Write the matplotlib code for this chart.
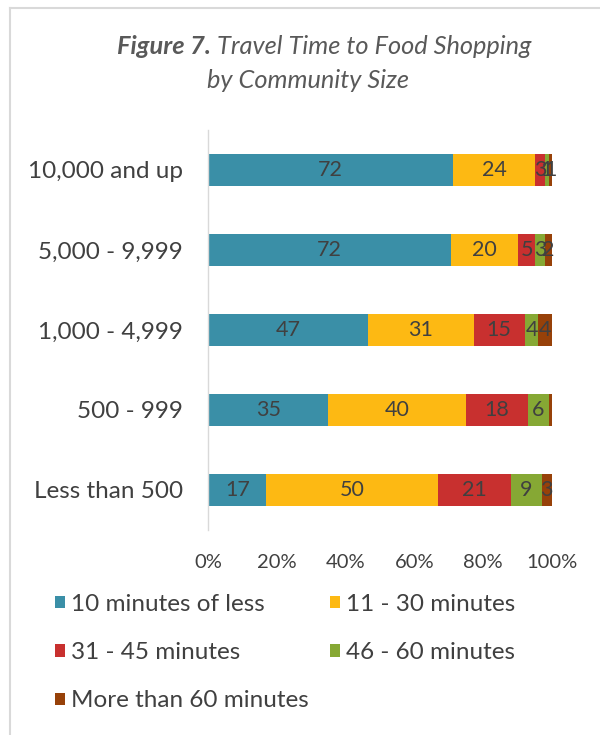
import matplotlib.pyplot as plt
from matplotlib.lines import Line2D
import numpy as np

plt.rcParams['font.family'] = ['Lato', 'DejaVu Sans']

# community sizes, bottom to top
sizes = ['Less than 500', '500 - 999', '1,000 - 4,999', '5,000 - 9,999', '10,000 and up']

# survey shares (%) per travel time band
under_10 = [17, 35, 47, 72, 72]
min_11_30 = [50, 40, 31, 20, 24]
min_31_45 = [21, 18, 15, 5, 3]
min_46_60 = [9, 6, 4, 3, 1]
over_60 = [3, 1, 4, 2, 1]

series_names = ['10 minutes of less', '11 - 30 minutes', '31 - 45 minutes',
                '46 - 60 minutes', 'More than 60 minutes']
colors = ['#3A8FA7', '#FDB913', '#C8302F', '#86A834', '#974109']
txt = '#404040'

series = np.array([under_10, min_11_30, min_31_45, min_46_60, over_60], dtype=float)
totals = series.sum(axis=0)
shares = series / totals * 100

fig = plt.figure(figsize=(6, 7.35), dpi=100)
ax = fig.add_axes([208/600, 1-530/735, 344/600, 400/735])

y = np.arange(len(sizes))
left = np.zeros(len(sizes))
handles = []
for i in range(len(series)):
    bars = ax.barh(y, shares[i], left=left, height=0.4, color=colors[i],
                   label=series_names[i])
    handles.append(bars)
    for j in range(len(sizes)):
        v = series[i][j]
        # the tiny sliver on 500 - 999 carries no label
        if i == 4 and j == 1:
            continue
        ax.text(left[j] + shares[i][j]/2, y[j], '%d' % v, ha='center', va='center',
                fontsize=15.5, color=txt)
    left += shares[i]

ax.set_xlim(0, 100)
ax.set_ylim(-0.5, 4.5)
ax.set_yticks(y)
ax.set_yticklabels(sizes, fontsize=17.5, color=txt)
ax.set_xticks([0, 20, 40, 60, 80, 100])
ax.set_xticklabels(['0%', '20%', '40%', '60%', '80%', '100%'], fontsize=14.5, color=txt)
ax.tick_params(length=0)
ax.tick_params(axis='y', pad=18)
ax.tick_params(axis='x', pad=17)
for s in ['top', 'right', 'bottom']:
    ax.spines[s].set_visible(False)
ax.spines['left'].set_color('#D9D9D9')
ax.spines['left'].set_linewidth(1)

# outer frame lines
fig.add_artist(Line2D([10/600, 10/600], [0, 1-8/735], color='#D9D9D9', lw=1.5))
fig.add_artist(Line2D([10/600, 1], [1-8/735, 1-8/735], color='#D9D9D9', lw=1.5))

# title, first part bold italic
fig.canvas.draw()
r = fig.canvas.get_renderer()
title_c = '#595959'
p1 = fig.text(0, 0, 'Figure 7.', fontsize=18.3, fontstyle='italic', fontweight='bold', color=title_c)
p2 = fig.text(0, 0, ' Travel Time to Food Shopping', fontsize=18.3, fontstyle='italic', color=title_c)
w1 = p1.get_window_extent(r).width
w2 = p2.get_window_extent(r).width
x0 = 324 - (w1 + w2) / 2
ty = 735 - 47
p1.set_position((x0/600, ty/735))
p2.set_position(((x0 + w1)/600, ty/735))
p1.set_va('center')
p2.set_va('center')
fig.text(308/600, 1-80/735, 'by Community Size', fontsize=18.3, fontstyle='italic',
         color=title_c, ha='center', va='center')

order = [0, 2, 4, 1, 3]
leg = fig.legend([handles[k] for k in order], [series_names[k] for k in order],
                 ncol=2, loc='upper left', bbox_to_anchor=(55/600, 1-594/735),
                 frameon=False, fontsize=17.5, handlelength=0.4, handleheight=0.4,
                 handletextpad=0.25, columnspacing=0.9, labelspacing=1.12,
                 borderpad=0, borderaxespad=0, labelcolor=txt)

fig.savefig('out.png', dpi=100)
